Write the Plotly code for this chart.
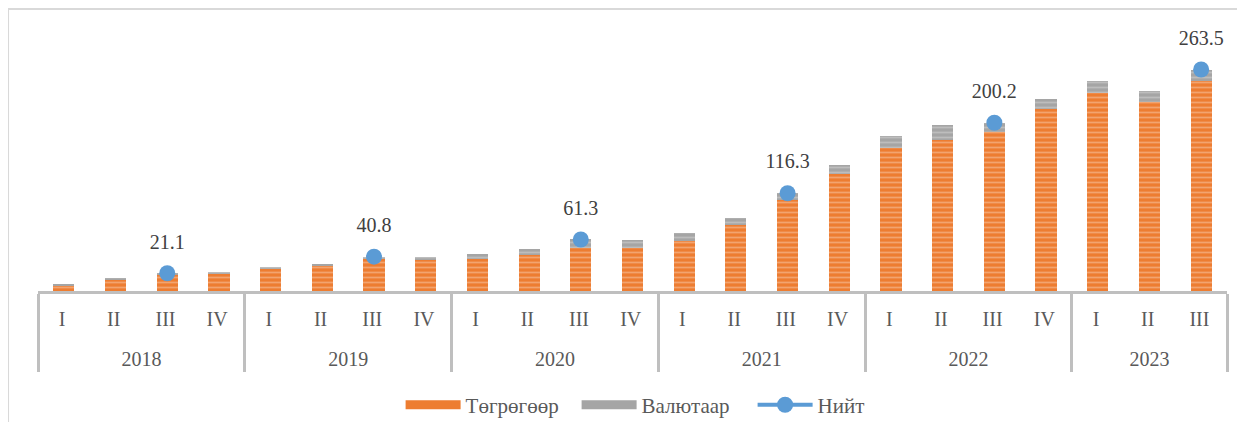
import plotly.graph_objects as go

# ---- data ----
years = ["2018"] * 4 + ["2019"] * 4 + ["2020"] * 4 + ["2021"] * 4 + ["2022"] * 4 + ["2023"] * 3
quarters = ["I", "II", "III", "IV"] * 5 + ["I", "II", "III"]

togrog = [7.0, 13.5, 19.6, 21.0, 26.5, 30.5, 37.8, 37.0,
          38.5, 42.5, 51.3, 51.5, 59.5, 78.5, 107.8, 139.5,
          170.0, 180.0, 189.2, 216.0, 236.0, 225.0, 250.0]
valyut = [0.5, 1.0, 1.5, 1.0, 1.0, 1.5, 3.0, 3.0,
          6.0, 8.0, 10.0, 9.5, 9.0, 8.0, 8.5, 10.0,
          14.0, 17.0, 11.0, 12.0, 14.0, 13.0, 13.5]
niit = [None, None, 21.1, None, None, None, 40.8, None,
        None, None, 61.3, None, None, None, 116.3, None,
        None, None, 200.2, None, None, None, 263.5]

label_years = ["2018", "2019", "2020", "2021", "2022", "2023"]
label_quarters = ["III"] * 6
label_values = [21.1, 40.8, 61.3, 116.3, 200.2, 263.5]

FONT = "Liberation Serif"
ORANGE = "#ED7D31"
GREY = "#A5A5A5"
BLUE = "#5B9BD5"

# invisible tall spacer: enlarges the first label row so the year row sits lower
SPACER = "<span style='font-size:42px'>\u200a</span>"
q_disp = [q + SPACER for q in quarters]
lq_disp = [q + SPACER for q in label_quarters]

fig = go.Figure()

fig.add_trace(go.Bar(
    name="Төгрөгөөр", x=[years, q_disp], y=togrog,
    legendgroup="t", showlegend=False,
    marker=dict(color=ORANGE, line=dict(width=0),
                pattern=dict(shape="-", bgcolor=ORANGE, fgcolor="#F8CBAD",
                             size=5, solidity=0.35)),
))
fig.add_trace(go.Bar(
    name="Валютаар", x=[years, q_disp], y=valyut,
    legendgroup="v", showlegend=False,
    marker=dict(color=GREY, line=dict(width=0),
                pattern=dict(shape="-", bgcolor=GREY, fgcolor="#D6D6D6",
                             size=5, solidity=0.35)),
))
fig.add_trace(go.Scatter(
    name="Нийт", x=[years, q_disp], y=niit,
    mode="lines+markers", connectgaps=False, legendgroup="n", legendrank=3,
    line=dict(color=BLUE, width=4),
    marker=dict(color=BLUE, size=16),
))
# legend swatches for the stacked bars (wide bands as in the original)
fig.add_trace(go.Scatter(
    name="Төгрөгөөр", x=[[years[0]], [q_disp[0]]], y=[None], mode="lines",
    legendgroup="t", legendrank=1, hoverinfo="skip",
    line=dict(color=ORANGE, width=9),
))
fig.add_trace(go.Scatter(
    name="Валютаар", x=[[years[0]], [q_disp[0]]], y=[None], mode="lines",
    legendgroup="v", legendrank=2, hoverinfo="skip",
    line=dict(color=GREY, width=9),
))
# value labels (transparent marker used to offset the text above the dots)
fig.add_trace(go.Scatter(
    x=[label_years, lq_disp], y=label_values,
    mode="text+markers", showlegend=False, hoverinfo="skip",
    marker=dict(size=30, color="rgba(0,0,0,0)"),
    text=[f"{v:.1f}" for v in label_values],
    textposition="top center",
    textfont=dict(family=FONT, size=20, color="#404040"),
))

# figure sized so that, with the page's 8px body margin, it fills the 1245x430 window
fig.update_layout(
    width=1229, height=414,
    margin=dict(l=30, r=10, t=12, b=131, autoexpand=False),
    paper_bgcolor="white", plot_bgcolor="white",
    barmode="stack", bargap=0.59,
    font=dict(family=FONT, size=20, color="#595959"),
    showlegend=True,
    legend=dict(orientation="h", x=0.527, xanchor="center", y=-0.421, yanchor="middle",
                font=dict(family=FONT, size=21, color="#595959"),
                itemwidth=55, entrywidth=106),
    xaxis=dict(type="multicategory", range=[-0.5, 22.5],
               showline=True, linecolor="#BFBFBF", linewidth=3,
               showdividers=True, dividercolor="#BFBFBF", dividerwidth=3,
               ticks="", showgrid=False, ticklabelstandoff=8,
               tickfont=dict(family=FONT, size=20, color="#595959")),
    yaxis=dict(range=[0, 322.4], showticklabels=False, showgrid=False,
               zeroline=False, showline=False, ticks=""),
    shapes=[dict(type="rect", xref="paper", yref="paper",
                 x0=-0.0252, x1=1.03, y0=-0.7, y1=1.0406,
                 line=dict(color="#D9D9D9", width=2), fillcolor="rgba(0,0,0,0)",
                 layer="below")],
)

fig.write_html("out.html")
